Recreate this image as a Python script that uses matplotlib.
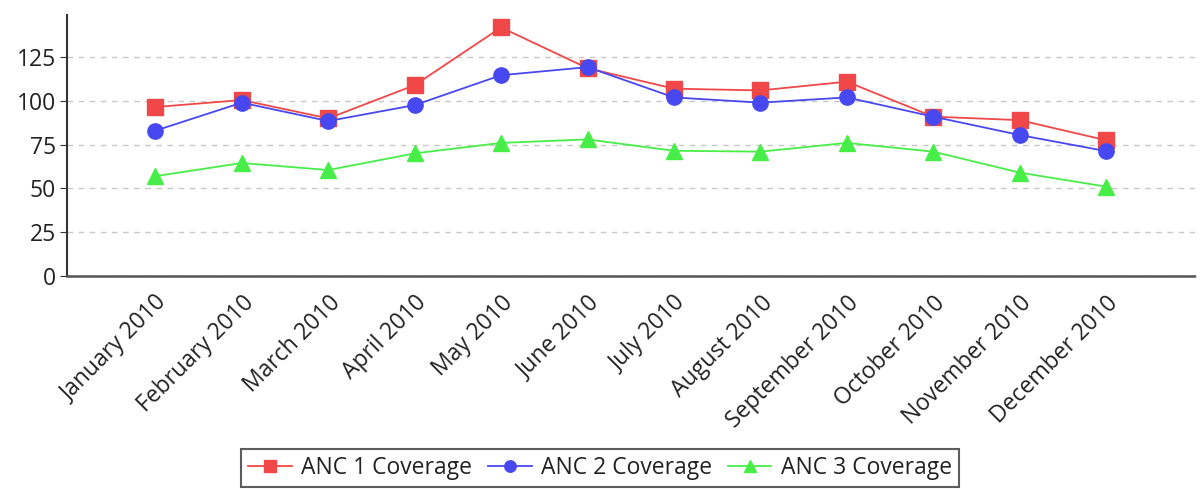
import matplotlib
matplotlib.use('Agg')
import matplotlib.pyplot as plt

# Chart data
months = ['January 2010', 'February 2010', 'March 2010', 'April 2010', 'May 2010',
          'June 2010', 'July 2010', 'August 2010', 'September 2010', 'October 2010',
          'November 2010', 'December 2010']
anc1 = [96.5, 100.5, 90, 109, 142, 118.7, 107, 106, 111, 91, 89, 77.5]
anc2 = [83, 99, 88.5, 97.6, 114.7, 119.3, 102, 99, 102, 91, 80.5, 71.3]
anc3 = [57, 64.5, 60.5, 70, 76, 78, 71.5, 71, 76, 71, 59, 51]
yticks = [0, 25, 50, 75, 100, 125]

plt.rcParams['font.family'] = ['Open Sans', 'DejaVu Sans']

fig = plt.figure(figsize=(12, 4.9), dpi=100)
ax = fig.add_axes([0.056, 0.437, 0.94, 0.532])

x = list(range(len(months)))
ax.plot(x, anc1, color='#f04848', marker='s', markersize=11, linewidth=1.3, label='ANC 1 Coverage')
ax.plot(x, anc2, color='#4848f0', marker='o', markersize=11, linewidth=1.3, label='ANC 2 Coverage')
ax.plot(x, anc3, color='#48ee48', marker='^', markersize=11, linewidth=1.3, label='ANC 3 Coverage')

ax.set_xlim(-1.02, len(months) + 0.03)
ax.set_ylim(0, 149)
ax.set_yticks(yticks)
ax.set_xticks(x)
ax.set_xticklabels(months, rotation=45, ha='right', rotation_mode='anchor', fontsize=16.5, color='#222222')
ax.tick_params(axis='y', labelsize=16.5, labelcolor='#222222', length=5, color='#333333', pad=3)
ax.tick_params(axis='x', length=0, pad=11)

ax.grid(axis='y', linestyle=(0, (4, 4)), color='#c8c8c8', linewidth=1)
ax.set_axisbelow(True)
for side in ['top', 'right']:
    ax.spines[side].set_visible(False)
ax.spines['left'].set_color('#333333')
ax.spines['left'].set_linewidth(1.5)
ax.spines['bottom'].set_color('#555555')
ax.spines['bottom'].set_linewidth(1.8)
ax.spines['bottom'].set_linestyle((0, (3, 1)))

leg = fig.legend(loc='center', bbox_to_anchor=(0.5, 0.045), ncol=3, fontsize=16.5,
                 frameon=True, fancybox=False, edgecolor='#333333', markerscale=0.75,
                 handlelength=1.9, handletextpad=0.4, columnspacing=0.7, borderpad=0.3,
                 borderaxespad=0)
leg.get_frame().set_linewidth(1.5)
for t in leg.get_texts():
    t.set_color('#222222')

fig.savefig('out.png', dpi=100)
